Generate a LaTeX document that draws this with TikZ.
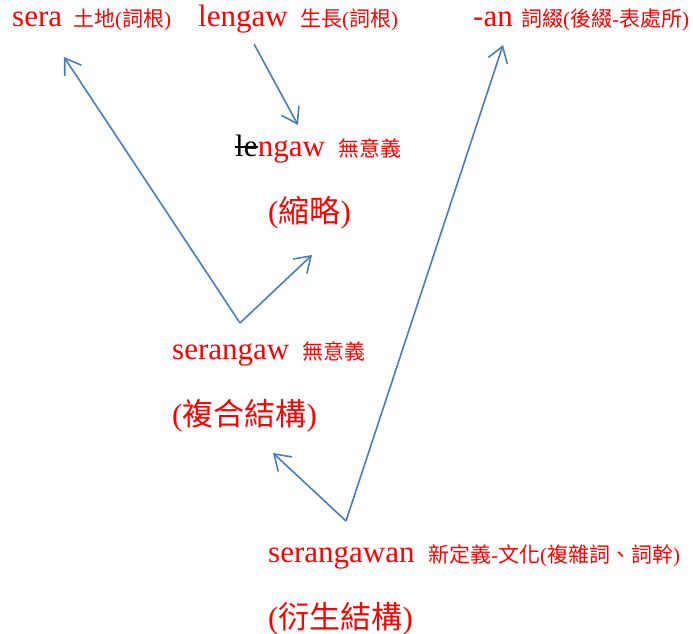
\documentclass[tikz,border=0pt]{standalone}
\usepackage{fontspec}
\setmainfont{Liberation Serif}
\newfontfamily\cjk{Noto Sans CJK TC}
\usetikzlibrary{arrows.meta}
\definecolor{arrowblue}{HTML}{4A7EBB}
\definecolor{txtred}{HTML}{FF0000}
\newcommand{\bigfont}{\fontsize{31}{36}\selectfont}
\newcommand{\smallfont}{\fontsize{21}{24}\selectfont}
\tikzset{
  word/.style={anchor=base west, inner sep=0pt, text=txtred, font=\bigfont},
  gloss/.style={anchor=base west, inner sep=0pt, text=txtred, font=\smallfont},
  link/.style={draw=arrowblue, line width=1.6pt, line join=round,
    -{Straight Barb[length=15pt,width=20pt]}},
}
\begin{document}
\begin{tikzpicture}[x=1pt,y=-1pt]
\useasboundingbox (0,0) rectangle (693,634);
% top row
\node[word] (sera) at (12,27) {sera};
\node[gloss] (seragl) at (73,27) {{\cjk 土地}({\cjk 詞根})};
\node[word] (lengaw) at (198,27) {lengaw};
\node[gloss] (lengawgl) at (300,27) {{\cjk 生長}({\cjk 詞根})};
\node[word] (an) at (473,27) {-an};
\node[gloss] (angl) at (521,27) {{\cjk 詞綴}({\cjk 後綴}-{\cjk 表處所})};
% shortened
\node[word, text=black] (le) at (235,156) {le};
\node[word, anchor=base west] (ngaw) at (le.base east) {ngaw};
\draw[black, line width=1.2pt] ([yshift=9pt]le.base west) -- ([yshift=9pt]le.base east);
\node[gloss] (ngawgl) at (338,156) {\cjk 無意義};
\node[word] (short) at (268,222) {({\cjk 縮略})};
% compound
\node[word] (serangaw) at (172,359) {serangaw};
\node[gloss] (serangawgl) at (302,359) {\cjk 無意義};
\node[word] (compound) at (172,425) {({\cjk 複合結構})};
% derived
\node[word] (serangawan) at (268,562) {serangawan};
\node[gloss] (serangawangl) at (428,562) {{\cjk 新定義}-{\cjk 文化}({\cjk 複雜詞、詞幹})};
\node[word] (derived) at (268,628) {({\cjk 衍生結構})};
% connectors
\coordinate (a1s) at (254,44);
\coordinate (a1e) at (298,125);
\coordinate (v1) at (240,323);
\coordinate (a2e) at (64,57);
\coordinate (a3e) at (312,255);
\coordinate (v2) at (346,521);
\coordinate (a4e) at (503,45);
\coordinate (a5e) at (273,453);
\draw[link] (a1s) -- (a1e);
\draw[link] (v1) -- (a2e);
\draw[link] (v1) -- (a3e);
\draw[link] (v2) -- (a4e);
\draw[link] (v2) -- (a5e);
\end{tikzpicture}
\end{document}
